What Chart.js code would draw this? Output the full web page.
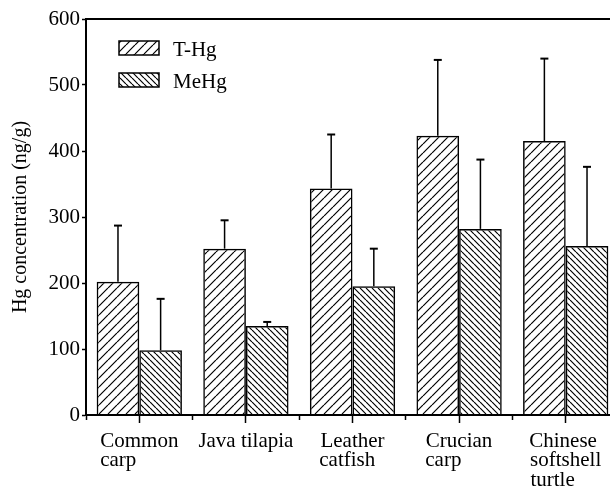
<!DOCTYPE html>
<html><head><meta charset="utf-8">
<script src="https://cdn.jsdelivr.net/npm/chart.js@4"></script>
<style>html,body{margin:0;padding:0;overflow:hidden;background:#fff}canvas{display:block}</style>
</head><body>
<canvas id="c" width="622" height="486"></canvas>
<script>
// ---- data ----
const categories = [['Common', 'carp'], ['Java tilapia'], ['Leather', 'catfish'], ['Crucian', 'carp'], ['Chinese', 'softshell', 'turtle']];
const seriesNames = ['T-Hg', 'MeHg'];
const tHg = [202, 252, 343, 423, 415];
const tHgSD = [85, 43, 82, 115, 125];
const meHg = [98, 135, 195, 282, 256];
const meHgSD = [78, 6, 57, 105, 120];
const yTicks = [0, 100, 200, 300, 400, 500, 600];
const yTitle = 'Hg concentration (ng/g)';

const FONT = '"Liberation Serif", "Times New Roman", serif';
const FSIZE = 21;
const canvas = document.getElementById('c');
const ctx0 = canvas.getContext('2d');

function hatch(step, dir) {
  const c = document.createElement('canvas');
  c.width = step; c.height = step;
  const g = c.getContext('2d');
  g.strokeStyle = '#000'; g.lineWidth = 1.2;
  g.beginPath();
  for (let k = -1; k <= 1; k++) {
    if (dir > 0) { g.moveTo(k * step, step); g.lineTo(k * step + step, 0); }
    else { g.moveTo(k * step, 0); g.lineTo(k * step + step, step); }
  }
  g.stroke();
  return ctx0.createPattern(c, 'repeat');
}

const measureCtx = document.createElement('canvas').getContext('2d');
function padLines(lines) {
  measureCtx.font = FSIZE + 'px ' + FONT;
  const w = lines.map(l => measureCtx.measureText(l).width);
  const max = Math.max(...w);
  const sp = measureCtx.measureText(' ').width;
  return lines.map((l, i) => l + ' '.repeat(Math.max(0, Math.round((max - w[i]) / sp))));
}

const errorBars = {
  id: 'errorBars',
  afterDatasetsDraw(chart) {
    const ctx = chart.ctx, y = chart.scales.y;
    chart.data.datasets.forEach((ds, di) => {
      const meta = chart.getDatasetMeta(di);
      meta.data.forEach((el, i) => {
        const top = y.getPixelForValue(ds.data[i] + ds.errors[i]);
        ctx.save();
        ctx.strokeStyle = '#000';
        ctx.lineWidth = 1.5;
        ctx.beginPath(); ctx.moveTo(el.x, el.y); ctx.lineTo(el.x, top); ctx.stroke();
        ctx.lineWidth = 2;
        ctx.beginPath(); ctx.moveTo(el.x - 4, top); ctx.lineTo(el.x + 4, top); ctx.stroke();
        ctx.restore();
      });
    });
  }
};

const hatchLegend = {
  id: 'hatchLegend',
  afterDraw(chart) {
    const ctx = chart.ctx, a = chart.chartArea;
    chart.data.datasets.forEach((ds, i) => {
      const bx = a.left + 33, by = a.top + 22 + i * 32;
      ctx.save();
      ctx.fillStyle = '#fff'; ctx.fillRect(bx, by, 40, 14);
      ctx.fillStyle = ds.backgroundColor; ctx.fillRect(bx, by, 40, 14);
      ctx.strokeStyle = '#000'; ctx.lineWidth = 1.5; ctx.strokeRect(bx, by, 40, 14);
      ctx.fillStyle = '#000'; ctx.font = FSIZE + 'px ' + FONT; ctx.textBaseline = 'alphabetic';
      ctx.fillText(ds.label, bx + 54, by + 15);
      ctx.restore();
    });
  }
};

new Chart(canvas, {
  type: 'bar',
  data: {
    labels: categories,
    datasets: [
      { label: seriesNames[0], data: tHg, errors: tHgSD, backgroundColor: hatch(9, 1), borderColor: '#000', borderWidth: 1.5, borderSkipped: 'start' },
      { label: seriesNames[1], data: meHg, errors: meHgSD, backgroundColor: hatch(6, -1), borderColor: '#000', borderWidth: 1.5, borderSkipped: 'start' }
    ]
  },
  options: {
    responsive: false,
    animation: false,
    layout: { padding: { top: 19, left: 0, right: 3, bottom: 0 } },
    datasets: { bar: { categoryPercentage: 0.8, barPercentage: 1.0 } },
    plugins: { legend: { display: false }, tooltip: { enabled: false } },
    scales: {
      x: {
        offset: true,
        grid: { offset: false, drawOnChartArea: false, tickLength: 8, tickColor: '#000', tickWidth: 1.5 },
        border: { color: '#000', width: 2 },
        ticks: { color: '#000', font: { family: FONT, size: FSIZE, lineHeight: 0.92 }, padding: 9, maxRotation: 0, autoSkip: false,
          callback: (v, i) => padLines(categories[i]) },
        afterFit: s => { s.height = 71; }
      },
      xMinor: {
        type: 'category', axis: 'x', position: { y: 0 }, offset: true,
        grid: { offset: true, drawOnChartArea: false, tickLength: 5, tickColor: '#000', tickWidth: 1.5 },
        border: { display: false }, ticks: { display: false }
      },
      xTop: {
        type: 'category', axis: 'x', position: 'top', offset: true,
        grid: { display: false, drawTicks: false }, border: { color: '#000', width: 2 },
        ticks: { display: false }, afterFit: s => { s.height = 0; }
      },
      y: {
        min: 0, max: 600,
        afterBuildTicks: s => { s.ticks = yTicks.map(v => ({ value: v })); },
        ticks: { color: '#000', font: { family: FONT, size: FSIZE }, padding: 2 },
        grid: { drawOnChartArea: false, tickLength: 4, tickColor: '#000', tickWidth: 1.5 },
        border: { color: '#000', width: 2 },
        title: { display: true, text: yTitle, color: '#000', font: { family: FONT, size: 20, lineHeight: 1.2 }, padding: { top: 9, bottom: 0 } },
        afterFit: s => { s.width = 86; }
      }
    }
  },
  plugins: [errorBars, hatchLegend]
});
</script>
</body></html>
